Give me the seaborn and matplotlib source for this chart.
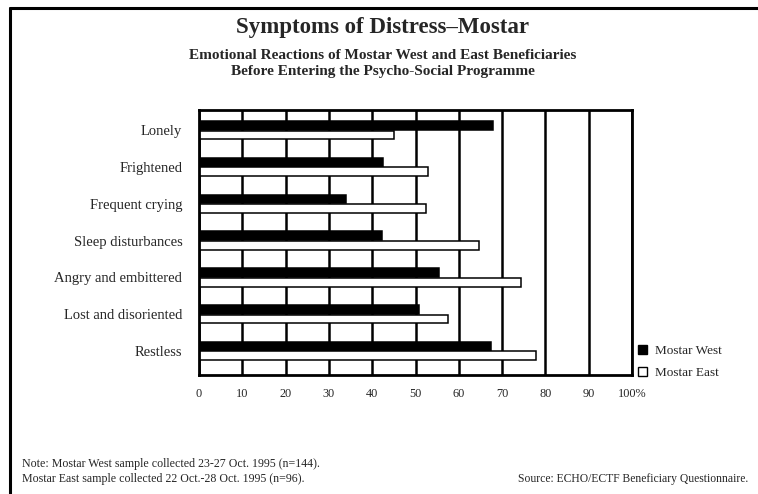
import pandas as pd
import seaborn as sns
import matplotlib.pyplot as plt
from matplotlib.patches import Patch
from matplotlib.lines import Line2D

symptoms = ["Lonely", "Frightened", "Frequent crying", "Sleep disturbances",
            "Angry and embittered", "Lost and disoriented", "Restless"]
mostar_west = [68, 42.6, 34, 42.2, 55.5, 50.7, 67.4]
mostar_east = [45, 52.9, 52.4, 64.7, 74.4, 57.6, 77.8]
sites = ["Mostar West", "Mostar East"]
tick_vals = [0, 10, 20, 30, 40, 50, 60, 70, 80, 90, 100]
tick_labels = ["0", "10", "20", "30", "40", "50", "60", "70", "80", "90", "100%"]

df = pd.DataFrame({
    "symptom": symptoms * 2,
    "pct": mostar_west + mostar_east,
    "site": [sites[0]] * len(symptoms) + [sites[1]] * len(symptoms),
})

sns.set_style("white")
plt.rcParams["font.family"] = ["Liberation Serif", "DejaVu Serif"]

W, H = 758, 494
fig = plt.figure(figsize=(W / 100, H / 100), dpi=100)
ax = fig.add_axes([199 / W, 1 - 375 / H, (632 - 199) / W, (375 - 110) / H])

sns.barplot(df, x="pct", y="symptom", hue="site", hue_order=sites, orient="h",
            palette={"Mostar West": "black", "Mostar East": "white"},
            edgecolor="black", linewidth=1.1, width=0.52, gap=0.08,
            legend=False, ax=ax)

ax.set_axisbelow(True)
ax.set_xlim(0, 100)
ax.set_ylim(6.65, -0.55)
ax.set_xticks(tick_vals)
ax.set_xticklabels(tick_labels, fontsize=8.8)
ax.xaxis.grid(True, color="black", linewidth=1.8)
ax.tick_params(axis="x", length=0, pad=9)
ax.tick_params(axis="y", length=0, pad=12, labelsize=10.5)
ax.set_xlabel("")
ax.set_ylabel("")
for s in ax.spines.values():
    s.set_visible(True)
    s.set_color("black")
    s.set_linewidth(2)

# legend to the right of the plot
handles = [Patch(facecolor="black", edgecolor="black", label="Mostar West"),
           Patch(facecolor="white", edgecolor="black", label="Mostar East")]
fig.legend(handles=handles, loc="center left", bbox_to_anchor=(626 / W, 1 - 362 / H),
           frameon=False, fontsize=9.5, handlelength=0.7, handleheight=0.7,
           handletextpad=0.6, labelspacing=0.75)

# titles
fig.text(383 / W, 1 - 33 / H, "Symptoms of Distress\u2013Mostar", ha="center", va="baseline",
         fontsize=16.5, fontweight="bold")
fig.text(383 / W, 1 - 59 / H, "Emotional Reactions of Mostar West and East Beneficiaries",
         ha="center", va="baseline", fontsize=11, fontweight="bold")
fig.text(383 / W, 1 - 74.5 / H, "Before Entering the Psycho-Social Programme",
         ha="center", va="baseline", fontsize=11, fontweight="bold")

# notes
fig.text(22 / W, 1 - 464 / H, "Note: Mostar West sample collected 23-27 Oct. 1995 (n=144).",
         ha="left", va="center", fontsize=8.6)
fig.text(22 / W, 1 - 479 / H, "Mostar East sample collected 22 Oct.-28 Oct. 1995 (n=96).",
         ha="left", va="center", fontsize=8.6)
fig.text(748 / W, 1 - 479 / H, "Source: ECHO/ECTF Beneficiary Questionnaire.",
         ha="right", va="center", fontsize=8.4)

# frame lines on top and left of the page
fig.add_artist(Line2D([10 / W, 10 / W], [1 - 8 / H, 0], color="black", linewidth=2.2))
fig.add_artist(Line2D([10 / W, 1], [1 - 8 / H, 1 - 8 / H], color="black", linewidth=2.2))

fig.savefig("out.png", dpi=100)
